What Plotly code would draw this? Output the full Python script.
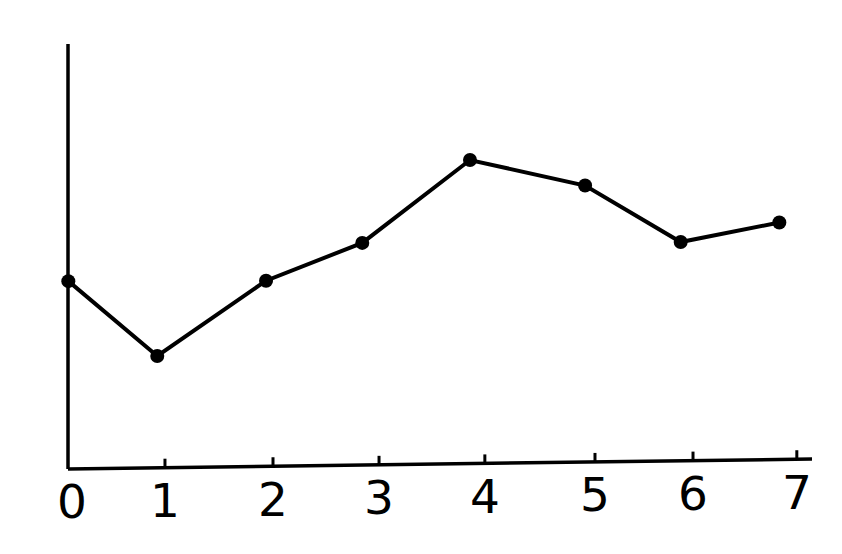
import plotly.graph_objects as go

# values
x_vals = [0.058, 0.902, 1.934, 2.847, 3.869, 4.961, 5.868, 6.804]
y_vals = [4.42, 2.66, 4.43, 5.32, 7.27, 6.67, 5.34, 5.80]

tick_pos = [0.093, 0.975, 2.0, 3.006, 4.01, 5.055, 5.985, 6.97]
tick_text = ["0", "1", "2", "3", "4", "5", "6", "7"]
tick_mark = [False, True, True, True, True, True, True, True]

X_RANGE = [0.055, 7.114]
Y_RANGE = [0, 10]
TILT = 0.0235  # hand-drawn x axis rises slightly to the right (paper units)

fig = go.Figure()
fig.add_trace(go.Scatter(
    x=x_vals,
    y=y_vals,
    mode="lines+markers",
    line=dict(color="black", width=4),
    marker=dict(color="black", size=14),
    cliponaxis=False,
    hoverinfo="skip",
))


def axis_height(xv):
    frac = (xv - X_RANGE[0]) / (X_RANGE[1] - X_RANGE[0])
    return TILT * frac


shapes = [
    # y axis
    dict(type="line", xref="paper", yref="paper", x0=0, y0=0, x1=0, y1=1,
         line=dict(color="black", width=3.5)),
    # x axis
    dict(type="line", xref="paper", yref="paper", x0=0, y0=0, x1=1, y1=TILT,
         line=dict(color="black", width=3.5)),
]
annotations = []
for pos, txt, mark in zip(tick_pos, tick_text, tick_mark):
    yb = axis_height(pos)
    if mark:
        shapes.append(dict(
            type="line", xref="x", yref="paper", ysizemode="pixel",
            yanchor=yb, x0=pos, x1=pos, y0=0, y1=9,
            line=dict(color="black", width=3),
        ))
    annotations.append(dict(
        x=pos, y=yb, xref="x", yref="paper", text=txt, showarrow=False,
        yanchor="middle", xanchor="center", yshift=-33,
        font=dict(family="DejaVu Sans", size=47, color="black"),
    ))

# the page body adds an 8px offset, so margins are trimmed to compensate
fig.update_layout(
    width=842,
    height=554,
    margin=dict(l=60, r=38, t=36, b=93),
    paper_bgcolor="white",
    plot_bgcolor="white",
    showlegend=False,
    shapes=shapes,
    annotations=annotations,
    xaxis=dict(range=X_RANGE, visible=False, showgrid=False, zeroline=False),
    yaxis=dict(range=Y_RANGE, visible=False, showgrid=False, zeroline=False),
)

fig.write_html("out.html")
